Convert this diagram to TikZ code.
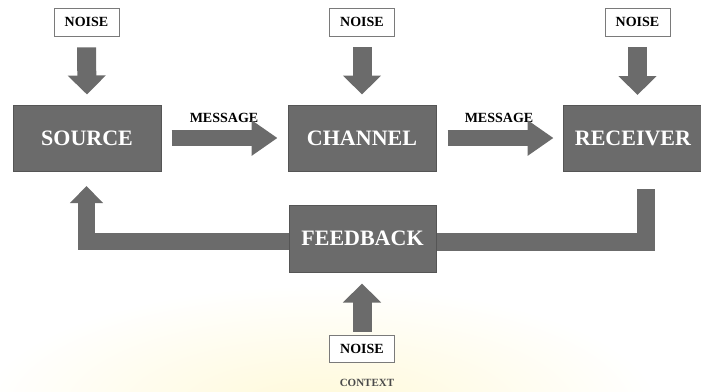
\documentclass[tikz,border=0pt]{standalone}
\usepackage{fontspec}
\setmainfont{Liberation Serif}
\usetikzlibrary{arrows.meta,calc}
\definecolor{boxgray}{HTML}{6B6B6B}
\definecolor{boxedge}{HTML}{555555}
\definecolor{noiseedge}{HTML}{7A7A7A}
\definecolor{glow}{HTML}{FFF9D8}
\definecolor{ctxtext}{HTML}{4A4A4A}
\begin{document}
\begin{tikzpicture}[x=1pt,y=-1pt,
  mainbox/.style={draw=boxedge,line width=1pt,fill=boxgray,text=white,
    font=\bfseries\fontsize{22}{22}\selectfont,inner sep=0pt},
  noisebox/.style={draw=noiseedge,line width=0.8pt,fill=white,text=black,
    font=\bfseries\fontsize{14}{14}\selectfont,inner sep=0pt,
    minimum width=65pt,minimum height=28pt},
  msg/.style={font=\bfseries\fontsize{14}{14}\selectfont,inner sep=0pt},
  blockarrow/.style={draw=boxgray,line width=19pt,
    -{Triangle[width=37pt,length=19pt]}},
  feedarrow/.style={draw=boxgray,line width=18pt,line join=miter},
  msgarrow/.style={draw=boxgray,line width=16pt,
    -{Triangle[width=34pt,length=26pt]}}]
\useasboundingbox (0,0) rectangle (701,391);
\shade[inner color=glow,outer color=white] (320,410) ellipse (340 and 125);
% main boxes
\node[mainbox,minimum width=148pt,minimum height=66pt] (source) at (87,138) {SOURCE};
\node[mainbox,minimum width=148pt,minimum height=66pt] (channel) at (362,138) {CHANNEL};
\node[mainbox,minimum width=140pt,minimum height=66pt] (receiver) at (633,138) {RECEIVER};
\node[mainbox,minimum width=147pt,minimum height=67pt] (feedback) at (362.5,238.5) {FEEDBACK};
% noise boxes
\node[noisebox] (n1) at (86.5,22) {NOISE};
\node[noisebox] (n2) at (362,22) {NOISE};
\node[noisebox] (n3) at (637.5,22) {NOISE};
\node[noisebox,minimum height=27pt] (n4) at (362,348.5) {NOISE};
\node[font=\bfseries\fontsize{11}{11}\selectfont,text=ctxtext] (context) at (367,383) {CONTEXT};
% message labels
\node[msg] (m1) at (224,118) {MESSAGE};
\node[msg] (m2) at (499,118) {MESSAGE};
% noise arrows
\coordinate (a1s) at ($(n1.south)+(0,11)$);
\coordinate (a1e) at ($(source.north)+(0,-10)$);
\draw[blockarrow] (a1s) -- (a1e);
\coordinate (a2s) at ($(n2.south)+(0,11)$);
\coordinate (a2e) at ($(channel.north)+(0,-10)$);
\draw[blockarrow] (a2s) -- (a2e);
\coordinate (a3s) at ($(n3.south)+(0,11)$);
\coordinate (a3e) at (637.5,95);
\draw[blockarrow] (a3s) -- (a3e);
\coordinate (a4s) at ($(n4.north)+(0,-3)$);
\coordinate (a4e) at ($(feedback.south)+(-0.5,11)$);
\draw[blockarrow] (a4s) -- (a4e);
% message arrows
\coordinate (ms1) at ($(source.east)+(10,0)$);
\coordinate (me1) at ($(channel.west)+(-10,0)$);
\draw[msgarrow] (ms1) -- (me1);
\coordinate (ms2) at ($(channel.east)+(11,0)$);
\coordinate (me2) at ($(receiver.west)+(-9,0)$);
\draw[msgarrow] (ms2) -- (me2);
% feedback loop
\coordinate (rtop) at (645.5,189);
\draw[feedarrow] (rtop) -- (645.5,241.5) -- (feedback.east |- 0,241.5);
\coordinate (ltip) at (86.5,186);
\draw[feedarrow,line width=17pt,-{Triangle[width=32pt,length=17pt]}]
  (feedback.west |- 0,241.5) -- (86.5,241.5) -- (ltip);
\end{tikzpicture}
\end{document}
